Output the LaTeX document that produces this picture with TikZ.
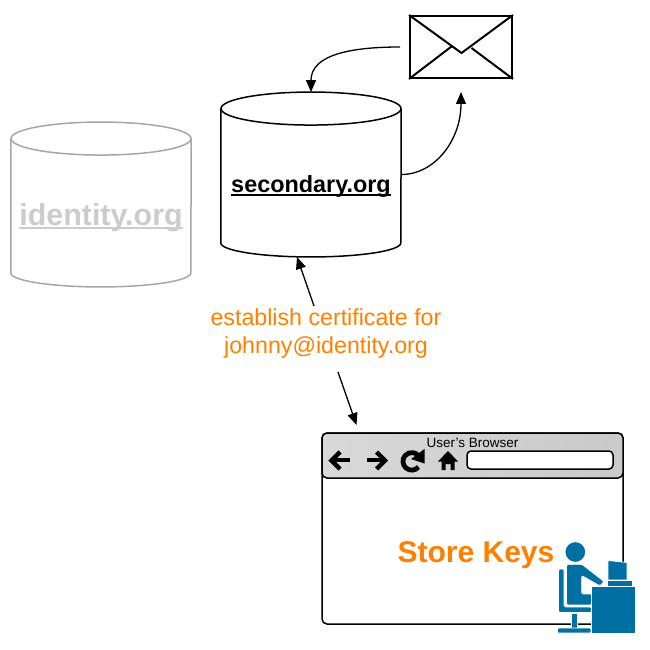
\documentclass[tikz,border=0pt]{standalone}
\usepackage{fontspec}
\setmainfont{Liberation Sans}
\usetikzlibrary{arrows.meta}
\definecolor{certorange}{HTML}{FF8000}
\definecolor{deskblue}{HTML}{0070A3}
\definecolor{ghostline}{HTML}{A6A6A6}
\definecolor{ghosttext}{HTML}{CCCCCC}
\newcommand{\thickul}[1]{\setbox0=\hbox{#1}\rlap{\rule[-3.5pt]{\wd0}{2pt}}\box0}
% outline of a database, around a node of style dbshape
\newcommand{\dbcan}[2]{
	\draw[line width=1.5pt, #2] ([yshift=-16.5pt]#1.north west) -- ([yshift=14pt]#1.south west)
		arc[start angle=180, end angle=360, x radius=90pt, y radius=14pt] -- ([yshift=-16.5pt]#1.north east);
	\draw[line width=1.5pt, #2] ([yshift=-16.5pt]#1.north) ellipse[x radius=90pt, y radius=16.5pt];
}
\tikzset{
	dbshape/.style={minimum width=180pt, minimum height=164.5pt, inner sep=0pt},
	dblabel/.style={font=\fontsize{23.4}{27}\selectfont\bfseries, inner sep=0pt},
	flow/.style={line width=1.3pt, -{Triangle[length=12pt,width=10pt]}},
	icon/.style={line width=4.4pt, black},
	person/.style={fill=deskblue, draw=white, line width=0.7pt}
}

\begin{document}
\begin{tikzpicture}[x=1pt, y=-1pt]
	\useasboundingbox (0,0) rectangle (649,650);

	% databases
	\node[dbshape] (identity) at (101,204.5) {};
	\dbcan{identity}{ghostline}
	\node[dblabel, text=ghosttext, font=\fontsize{30.4}{34}\selectfont\bfseries] (identitylabel) at (101,218) {\thickul{identity.org}};
	\node[dbshape] (secondary) at (311,174.5) {};
	\dbcan{secondary}{black}
	\node[dblabel] (secondarylabel) at (311,187) {\thickul{secondary.org}};

	% envelope
	\node[draw, line width=2pt, minimum width=102pt, minimum height=62pt, inner sep=0pt] (envelope) at (461,47) {};
	\coordinate (flaptip) at (461.5,53);
	\coordinate (foldleft) at (451.5,46.5);
	\coordinate (foldright) at (471.5,48);
	\draw[line width=2pt] (envelope.north west) -- (flaptip) -- (envelope.north east);
	\draw[line width=2pt] (envelope.south west) -- (foldleft);
	\draw[line width=2pt] (envelope.south east) -- (foldright);

	% browser
	\node[draw, line width=1.5pt, rounded corners=5pt, fill=white, minimum width=301pt, minimum height=191pt, inner sep=0pt] (browser) at (472.5,528.5) {};
	\node[draw, line width=1.5pt, rounded corners=5pt, left color=black!15, right color=black!21, minimum width=301pt, minimum height=45pt, inner sep=0pt] (toolbar) at (472.5,455.5) {};
	\node[draw, line width=1.5pt, rounded corners=4pt, fill=white, minimum width=146pt, minimum height=18pt, inner sep=0pt] (addressbar) at (540,460) {};
	\node[font=\fontsize{13.5}{16}\selectfont, inner sep=0pt] (browsertitle) at (472.5,443) {User's Browser};

	% toolbar icons
	\draw[icon] (349.5,460) -- (333,460);
	\draw[icon, miter limit=4] (340,452) -- (331.5,460.5) -- (340,469);
	\draw[icon] (367,460) -- (383,460);
	\draw[icon, miter limit=4] (376.5,452) -- (385,460.5) -- (376.5,469);
	\draw[icon, line width=4.8pt] (418.5,467) arc[start angle=-40, end angle=-320, radius=8.8pt];
	\fill (424.5,449) -- (424.5,463.5) -- (411,459) -- cycle;
	\fill (448,451) -- (458,461.5) -- (454.5,461.5) -- (454.5,470) -- (450.5,470) -- (450.5,464) -- (445.5,464) -- (445.5,470) -- (441.5,470) -- (441.5,461.5) -- (438,461.5) -- cycle;

	\node[font=\fontsize{30}{34}\selectfont\bfseries, text=certorange, inner sep=0pt] (storekeys) at (476,555) {Store Keys};

	% person at the desk
	\fill[person] (575.3,552) circle (10.3);
	\path[person, rounded corners=1.5pt] (566.5,605) -- (566.5,564.3) -- (582,564.3) -- (604,581.5) -- (600,586) -- (581.7,575.5) -- (581.7,594) -- (592,594) -- (592,605) -- cycle;
	\path[person, rounded corners=1.5pt] (558.5,569) -- (564,569) -- (564,607) -- (591.5,607) -- (591.5,612.5) -- (558.5,612.5) -- cycle;
	\path[person] (571.5,613) rectangle (577,628);
	\path[person, rounded corners=1pt] (557.5,633) -- (557.5,628) -- (591,628) -- (591,633) -- cycle;
	\path[person] (591.5,586.5) rectangle (635.5,633);
	\path[person] (608,560.5) -- (627,562.5) -- (627,580) -- (608,580) -- cycle;
	\path[person] (607.3,580.7) rectangle (632,586);

	% label and connectors
	\node[text=certorange, font=\fontsize{23.2}{28}\selectfont, align=center, inner sep=0pt] (certlabel) at (326,333) {establish certificate for\\johnny@identity.org};
	\coordinate (certtop) at (314,306);
	\coordinate (certbottom) at (338,372);
	\coordinate (dbfoot) at (297,257);
	\coordinate (browsertip) at (356.5,425);
	\coordinate (envelopetail) at (400,47);
	\coordinate (envelopetip) at (461,92);

	\draw[flow] (envelopetail) .. controls (350,47) and (311,55) .. (secondary.north);
	\draw[flow] (secondary.east) .. controls (435,174.5) and (461,140) .. (envelopetip);
	\draw[flow] (certtop) -- (dbfoot);
	\draw[flow] (certbottom) -- (browsertip);
\end{tikzpicture}
\end{document}
